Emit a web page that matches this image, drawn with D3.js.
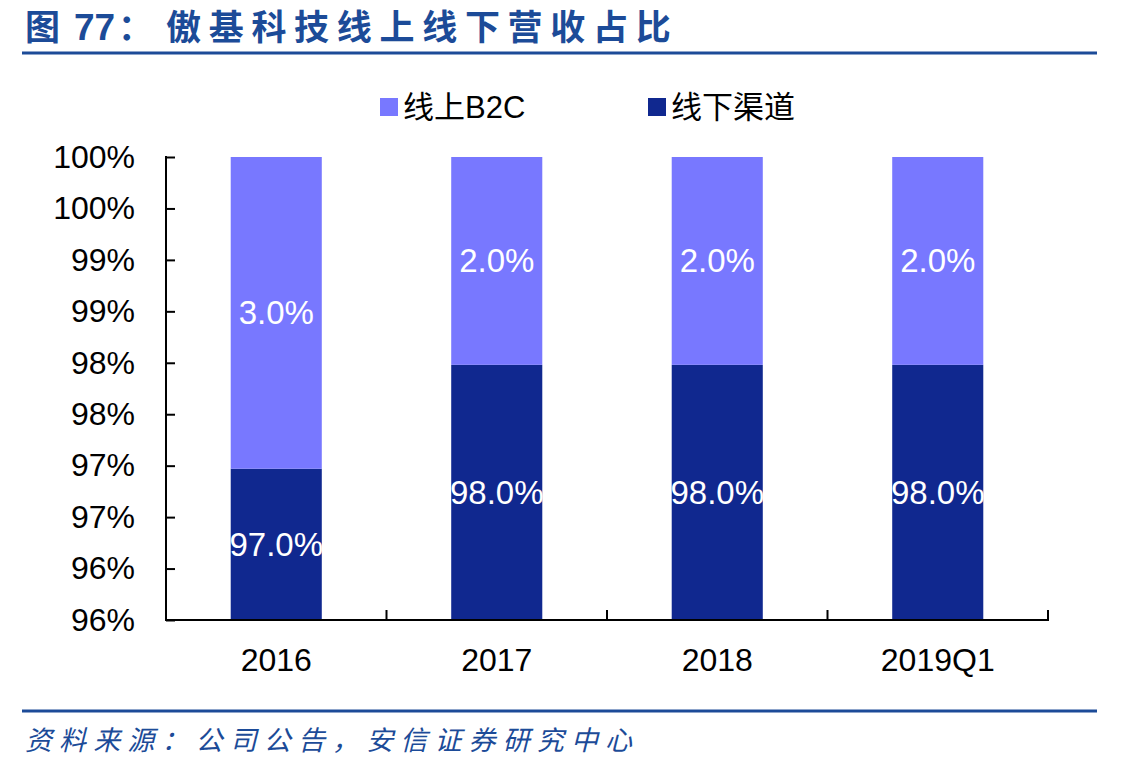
<!DOCTYPE html>
<html><head><meta charset="utf-8">
<script src="https://cdn.jsdelivr.net/npm/d3@7"></script>
<style>
html,body{margin:0;padding:0;background:#fff;}
svg{display:block;}
text{font-family:Arial,"Liberation Sans","Noto Sans CJK SC",sans-serif;}
</style></head>
<body><svg id="c" width="1147" height="768"></svg>
<script>
const categories = ["2016","2017","2018","2019Q1"];
const offline = [96.97, 97.98, 97.98, 97.98];   // 线下渠道
const online  = [3.03, 2.02, 2.02, 2.02];       // 线上B2C
const seriesNames = ["线上B2C","线下渠道"];
const tickValues = [95.5,96,96.5,97,97.5,98,98.5,99,99.5,100];
const tickLabels = ["96%","96%","97%","97%","98%","98%","99%","99%","100%","100%"];
const titleParts = ["图", "77", "：", "傲基科技线上线下营收占比"];
const sourceText = "资料来源：公司公告，安信证券研究中心";

const C_ON = "#7878FF", C_OFF = "#10288F", BLUE = "#1C4B98";
const svg = d3.select("#c");
const L = 166, R = 1048, T = 157, B = 620;

const x = d3.scaleBand().domain(categories).range([L, R]).paddingInner(0.587).paddingOuter(0.2935);
const y = d3.scaleLinear().domain([95.5, 100]).range([B, T]);

// title
const tt = svg.append("text").attr("y", 40).attr("fill", BLUE)
  .attr("font-size", 35).attr("font-weight", "bold")
  .style("font-family", "Arial,'Noto Sans CJK SC',sans-serif");
tt.append("tspan").attr("x", 25).style("font-family", "'Noto Sans CJK SC',sans-serif").text(titleParts[0]);
tt.append("tspan").attr("x", 74).style("font-family", "Arial,sans-serif").attr("font-size", 37).text(titleParts[1]);
tt.append("tspan").attr("x", 118).style("font-family", "'Noto Sans CJK SC',sans-serif").text(titleParts[2]);
tt.append("tspan").attr("x", 166).attr("letter-spacing", 7.7).style("font-family", "'Noto Sans CJK SC',sans-serif").text(titleParts[3]);
svg.append("line").attr("x1", 22).attr("x2", 1097).attr("y1", 53).attr("y2", 53)
  .attr("stroke", BLUE).attr("stroke-width", 3);

// footer
svg.append("line").attr("x1", 22).attr("x2", 1097).attr("y1", 711).attr("y2", 711)
  .attr("stroke", BLUE).attr("stroke-width", 3);
svg.append("text").attr("x", 25).attr("y", 750).attr("fill", BLUE)
  .attr("font-size", 27).attr("font-style", "italic")
  .attr("textLength", 607).attr("lengthAdjust", "spacing")
  .style("font-family", "'Noto Sans CJK SC',sans-serif")
  .text(sourceText);

// bars
const data = categories.map((c, i) => ({c, off: offline[i], on: online[i]}));
const lo = y.domain()[0];
const g = svg.append("g");
data.forEach(d => {
  const top = d.off + d.on;
  g.append("rect").attr("x", x(d.c)).attr("width", x.bandwidth())
    .attr("y", y(d.off)).attr("height", y(lo) - y(d.off)).attr("fill", C_OFF);
  g.append("rect").attr("x", x(d.c)).attr("width", x.bandwidth())
    .attr("y", y(top)).attr("height", y(d.off) - y(top)).attr("fill", C_ON);
  const cx = x(d.c) + x.bandwidth() / 2;
  g.append("text").attr("x", cx).attr("y", y((lo + d.off) / 2))
    .attr("text-anchor", "middle").attr("dominant-baseline", "central")
    .attr("fill", "#fff").attr("font-size", 33).text(d.off.toFixed(1) + "%");
  g.append("text").attr("x", cx).attr("y", y(d.off + d.on / 2))
    .attr("text-anchor", "middle").attr("dominant-baseline", "central")
    .attr("fill", "#fff").attr("font-size", 33).text(d.on.toFixed(1) + "%");
});

// y axis
const ya = svg.append("g").attr("transform", `translate(${L},0)`)
  .call(d3.axisLeft(y).tickValues(tickValues).tickSize(-9).tickPadding(31)
    .tickFormat((v, i) => tickLabels[i]));
ya.select(".domain").remove();
ya.selectAll(".tick line").attr("stroke", "#000").attr("stroke-width", 2);
ya.selectAll(".tick text").attr("font-size", 32).attr("fill", "#000")
  .style("font-family", "Arial,'Liberation Sans',sans-serif");
svg.append("line").attr("x1", L).attr("x2", L).attr("y1", T - 1).attr("y2", B + 1)
  .attr("stroke", "#000").attr("stroke-width", 2);

// x axis
const xa = svg.append("g").attr("transform", `translate(0,${B})`)
  .call(d3.axisBottom(x).tickSize(0).tickPadding(28));
xa.select(".domain").remove();
xa.selectAll(".tick text").attr("font-size", 32).attr("fill", "#000").attr("dy", "0.71em")
  .style("font-family", "Arial,'Liberation Sans',sans-serif");
svg.append("line").attr("x1", L - 1).attr("x2", R + 1).attr("y1", B).attr("y2", B)
  .attr("stroke", "#000").attr("stroke-width", 2);
const step = x.step();
categories.forEach((c, i) => {
  const bx = x(c) - x.paddingOuter() * step + step;
  svg.append("line").attr("x1", bx).attr("x2", bx).attr("y1", B).attr("y2", B - 10)
    .attr("stroke", "#000").attr("stroke-width", 2);
});

// legend
const leg = [{n: seriesNames[0], c: C_ON, x: 380}, {n: seriesNames[1], c: C_OFF, x: 648}];
leg.forEach(l => {
  svg.append("rect").attr("x", l.x).attr("y", 98).attr("width", 18).attr("height", 18).attr("fill", l.c);
  svg.append("text").attr("x", l.x + 23).attr("y", 107).attr("dominant-baseline", "central")
    .attr("font-size", 31).attr("fill", "#000")
    .style("font-family", "Arial,'Noto Sans CJK SC',sans-serif").text(l.n);
});
</script></body></html>
